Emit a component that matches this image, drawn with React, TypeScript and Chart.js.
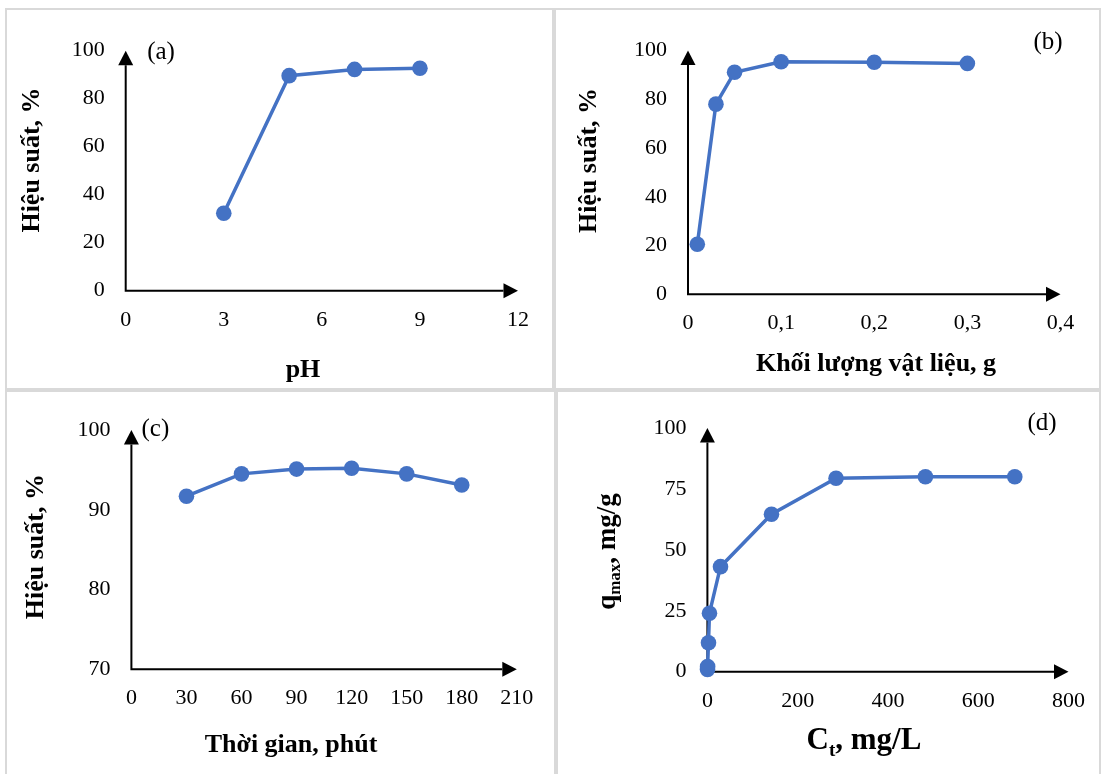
import React, { useEffect, useRef } from 'react';
import { Chart, registerables } from 'chart.js';

Chart.register(...registerables);

// ---------- DATA ----------
// (a) effect of pH
const phValues = [3, 5, 7, 9];
const phEfficiency = [32.3, 89.6, 92.2, 92.7];
const phTickLabels = ['0', '3', '6', '9', '12'];
const effTickLabelsA = ['0', '20', '40', '60', '80', '100'];

// (b) effect of adsorbent mass
const massValues = [0.01, 0.03, 0.05, 0.1, 0.2, 0.3];
const massEfficiency = [20.5, 78.0, 91.1, 95.4, 95.2, 94.7];
const massTickLabels = ['0', '0,1', '0,2', '0,3', '0,4'];
const effTickLabelsB = ['0', '20', '40', '60', '80', '100'];

// (c) effect of contact time
const timeValues = [30, 60, 90, 120, 150, 180];
const timeEfficiency = [91.7, 94.5, 95.1, 95.2, 94.5, 93.1];
const timeTickLabels = ['0', '30', '60', '90', '120', '150', '180', '210'];
const effTickLabelsC = ['70', '80', '90', '100'];

// (d) isotherm
const ctValues = [0.2, 0.5, 2.4, 4.6, 29, 142, 285, 483, 681];
const qmaxValues = [0.9, 2.1, 11.9, 24.0, 43.1, 64.6, 79.4, 80.0, 80.0];
const ctTickLabels = ['0', '200', '400', '600', '800'];
const qTickLabels = ['0', '25', '50', '75', '100'];

// ---------- STYLE / LAYOUT ----------
const FONT = '"Liberation Serif", "Times New Roman", Times, serif';
const BLUE = '#4472C4';
const TEXT = '#000000';
const XH = 60; // fixed x-scale height
const YW = 90; // fixed y-scale width

type Seg = { t: string; size: number; bold?: boolean; dy?: number };
type Panel = {
  box: { left: number; top: number; width: number; height: number };
  area: { left: number; top: number; right: number; bottom: number };
  xs: number[];
  ys: number[];
  x: { min: number; max: number; step: number; labels: string[] };
  y: { min: number; max: number; step: number; labels: string[] };
  tag: { text: string; cx: number; base: number };
  xTitle: { segs: Seg[]; cx: number; base: number };
  yTitle: { segs: Seg[]; baseX: number; cy: number };
};

const effTitle: Seg[] = [{ t: 'Hiệu suất, %', size: 26, bold: true }];

const panels: Panel[] = [
  {
    box: { left: 5, top: 8, width: 549, height: 382 },
    area: { left: 125.7, top: 50.7, right: 518, bottom: 290.7 },
    xs: phValues,
    ys: phEfficiency,
    x: { min: 0, max: 12, step: 3, labels: phTickLabels },
    y: { min: 0, max: 100, step: 20, labels: effTickLabelsA },
    tag: { text: '(a)', cx: 161, base: 59 },
    xTitle: { segs: [{ t: 'pH', size: 26, bold: true }], cx: 303, base: 377 },
    yTitle: { segs: effTitle, baseX: 39, cy: 160 },
  },
  {
    box: { left: 554, top: 8, width: 547, height: 382 },
    area: { left: 688, top: 50.5, right: 1060.5, bottom: 294.3 },
    xs: massValues,
    ys: massEfficiency,
    x: { min: 0, max: 0.4, step: 0.1, labels: massTickLabels },
    y: { min: 0, max: 100, step: 20, labels: effTickLabelsB },
    tag: { text: '(b)', cx: 1048, base: 49 },
    xTitle: { segs: [{ t: 'Khối lượng vật liệu, g', size: 26, bold: true }], cx: 876, base: 371 },
    yTitle: { segs: effTitle, baseX: 595.5, cy: 160.5 },
  },
  {
    box: { left: 5, top: 390, width: 551, height: 384 },
    area: { left: 131.4, top: 430, right: 516.8, bottom: 669.3 },
    xs: timeValues,
    ys: timeEfficiency,
    x: { min: 0, max: 210, step: 30, labels: timeTickLabels },
    y: { min: 70, max: 100, step: 10, labels: effTickLabelsC },
    tag: { text: '(c)', cx: 155.4, base: 436.4 },
    xTitle: { segs: [{ t: 'Thời gian, phút', size: 26, bold: true }], cx: 291, base: 752 },
    yTitle: { segs: effTitle, baseX: 42.5, cy: 546.7 },
  },
  {
    box: { left: 556, top: 390, width: 545, height: 384 },
    area: { left: 707.4, top: 428, right: 1070.4, bottom: 671.7 },
    xs: ctValues,
    ys: qmaxValues,
    x: { min: 0, max: 800, step: 200, labels: ctTickLabels },
    y: { min: 0, max: 100, step: 25, labels: qTickLabels },
    tag: { text: '(d)', cx: 1042, base: 429.7 },
    xTitle: {
      segs: [
        { t: 'C', size: 31, bold: true },
        { t: 't', size: 19, bold: true, dy: 7 },
        { t: ', mg/L', size: 31, bold: true },
      ],
      cx: 864,
      base: 748.5,
    },
    yTitle: {
      segs: [
        { t: 'q', size: 27, bold: true },
        { t: 'max', size: 17, bold: true, dy: 5 },
        { t: ', mg/g', size: 27, bold: true },
      ],
      baseX: 615,
      cy: 551.5,
    },
  },
];

const fontOf = (s: Seg) => `${s.bold ? 'bold ' : ''}${s.size}px ${FONT}`;

function drawSegs(ctx: CanvasRenderingContext2D, segs: Seg[]) {
  let total = 0;
  const widths = segs.map((s) => {
    ctx.font = fontOf(s);
    const w = ctx.measureText(s.t).width;
    total += w;
    return w;
  });
  let x = -total / 2;
  segs.forEach((s, i) => {
    ctx.font = fontOf(s);
    ctx.fillText(s.t, x, s.dy || 0);
    x += widths[i];
  });
}

const decorPlugin = {
  id: 'decor',
  beforeDatasetsDraw(chart: any) {
    const { ctx, chartArea: a } = chart;
    const L = 14.5;
    const H = 7.5;
    ctx.save();
    ctx.strokeStyle = '#000';
    ctx.fillStyle = '#000';
    ctx.lineWidth = 2;
    ctx.lineJoin = 'miter';
    ctx.beginPath();
    ctx.moveTo(a.left, a.top + L);
    ctx.lineTo(a.left, a.bottom);
    ctx.lineTo(a.right - L, a.bottom);
    ctx.stroke();
    ctx.beginPath();
    ctx.moveTo(a.left, a.top);
    ctx.lineTo(a.left - H, a.top + L);
    ctx.lineTo(a.left + H, a.top + L);
    ctx.closePath();
    ctx.fill();
    ctx.beginPath();
    ctx.moveTo(a.right, a.bottom);
    ctx.lineTo(a.right - L, a.bottom - H);
    ctx.lineTo(a.right - L, a.bottom + H);
    ctx.closePath();
    ctx.fill();
    ctx.restore();
  },
  afterDraw(chart: any, _args: any, opts: any) {
    const p: Panel = opts.panel;
    if (!p) return;
    const ctx: CanvasRenderingContext2D = chart.ctx;
    const ox = p.box.left;
    const oy = p.box.top;
    ctx.save();
    ctx.fillStyle = TEXT;
    ctx.textBaseline = 'alphabetic';
    ctx.textAlign = 'left';
    ctx.save();
    ctx.translate(p.tag.cx - ox, p.tag.base - oy);
    drawSegs(ctx, [{ t: p.tag.text, size: 25 }]);
    ctx.restore();
    ctx.save();
    ctx.translate(p.xTitle.cx - ox, p.xTitle.base - oy);
    drawSegs(ctx, p.xTitle.segs);
    ctx.restore();
    ctx.save();
    ctx.translate(p.yTitle.baseX - ox, p.yTitle.cy - oy);
    ctx.rotate(-Math.PI / 2);
    drawSegs(ctx, p.yTitle.segs);
    ctx.restore();
    ctx.restore();
  },
};

function PanelChart({ p }: { p: Panel }) {
  const ref = useRef<HTMLCanvasElement>(null);
  useEffect(() => {
    const canvas = ref.current;
    if (!canvas) return;
    const pad = {
      left: p.area.left - p.box.left - YW,
      top: p.area.top - p.box.top,
      right: p.box.left + p.box.width - p.area.right,
      bottom: p.box.top + p.box.height - p.area.bottom - XH,
    };
    const tickFont = { family: FONT, size: 22 };
    const chart = new Chart(canvas, {
      type: 'line',
      data: {
        datasets: [
          {
            data: p.xs.map((x, i) => ({ x, y: p.ys[i] })),
            borderColor: BLUE,
            backgroundColor: BLUE,
            borderWidth: 3.5,
            pointRadius: 7.8,
            pointBorderWidth: 0,
            pointBackgroundColor: BLUE,
            tension: 0,
            clip: false as any,
          },
        ],
      },
      options: {
        animation: false,
        responsive: false,
        maintainAspectRatio: false,
        events: [],
        layout: { padding: pad },
        plugins: {
          legend: { display: false },
          tooltip: { enabled: false },
          decor: { panel: p },
        } as any,
        scales: {
          x: {
            type: 'linear',
            min: p.x.min,
            max: p.x.max,
            grid: { display: false, drawTicks: false },
            border: { display: false },
            ticks: {
              stepSize: p.x.step,
              autoSkip: false,
              maxRotation: 0,
              minRotation: 0,
              padding: 16,
              color: TEXT,
              font: tickFont,
              callback: (_v: any, i: number) => p.x.labels[i],
            },
            afterFit: (s: any) => {
              s.height = XH;
            },
          },
          y: {
            type: 'linear',
            min: p.y.min,
            max: p.y.max,
            grid: { display: false, drawTicks: false },
            border: { display: false },
            ticks: {
              stepSize: p.y.step,
              autoSkip: false,
              padding: 21,
              color: TEXT,
              font: tickFont,
              callback: (_v: any, i: number) => p.y.labels[i],
            },
            afterFit: (s: any) => {
              s.width = YW;
            },
          },
        },
      } as any,
      plugins: [decorPlugin as any],
    });
    return () => chart.destroy();
  }, [p]);
  return (
    <canvas
      ref={ref}
      width={p.box.width}
      height={p.box.height}
      style={{
        position: 'absolute',
        left: p.box.left,
        top: p.box.top,
        width: p.box.width,
        height: p.box.height,
      }}
    />
  );
}

const cellBorders = [
  { left: 5, top: 8, width: 549, height: 382 },
  { left: 554, top: 8, width: 547, height: 382 },
  { left: 5, top: 390, width: 551, height: 390 },
  { left: 556, top: 390, width: 545, height: 390 },
];

export default function App() {
  return (
    <div
      style={{
        position: 'fixed',
        left: 0,
        top: 0,
        width: 1102,
        height: 774,
        overflow: 'hidden',
        background: '#ffffff',
      }}
    >
      {cellBorders.map((c, i) => (
        <div
          key={i}
          style={{
            position: 'absolute',
            left: c.left,
            top: c.top,
            width: c.width,
            height: c.height,
            boxSizing: 'border-box',
            border: '2px solid #d9d9d9',
          }}
        />
      ))}
      {panels.map((p, i) => (
        <PanelChart key={i} p={p} />
      ))}
    </div>
  );
}
